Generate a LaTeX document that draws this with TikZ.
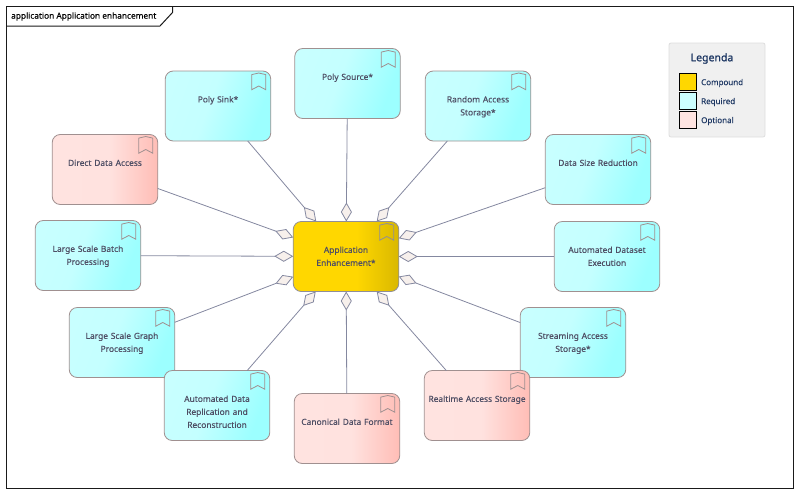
\documentclass[tikz,border=0pt]{standalone}
\usepackage{fontspec}
\setmainfont{Noto Sans}[FakeBold=0.2]
\newfontfamily\legendfont{Noto Sans}[FakeBold=1.1]
\usetikzlibrary{arrows.meta}
\definecolor{frameline}{HTML}{1A1A1A}
\definecolor{boxline}{HTML}{A09090}
\definecolor{coreline}{HTML}{908E98}
\definecolor{linkline}{HTML}{8488A0}
\definecolor{tipfill}{HTML}{F7F0EC}
\definecolor{boxtext}{HTML}{4E4E64}
\definecolor{legendtext}{HTML}{1F3864}
\definecolor{goldA}{HTML}{FFD700}
\definecolor{goldB}{HTML}{D9B800}
\definecolor{cyanA}{HTML}{CCFFFF}
\definecolor{cyanB}{HTML}{C4FFFF}
\definecolor{cyanC}{HTML}{9CFFFF}
\definecolor{pinkA}{HTML}{FFE4E1}
\definecolor{pinkB}{HTML}{FFE2DF}
\definecolor{pinkC}{HTML}{FFBDB6}
\pgfdeclarehorizontalshading{compoundfill}{100bp}{
  color(0bp)=(goldA);color(55bp)=(goldA);color(75bp)=(goldB);color(100bp)=(goldB)}
\pgfdeclarehorizontalshading{requiredfill}{100bp}{
  color(0bp)=(cyanA);color(45bp)=(cyanB);color(72bp)=(cyanC);color(100bp)=(cyanC)}
\pgfdeclarehorizontalshading{optionalfill}{100bp}{
  color(0bp)=(pinkA);color(52bp)=(pinkB);color(75bp)=(pinkC);color(100bp)=(pinkC)}
\tikzset{
  box/.style={
    rectangle,
    rounded corners=8pt,
    minimum width=105.5pt,
    minimum height=70pt,
    inner sep=0pt,
    outer sep=0pt,
    text width=104pt,
    text height=31.4pt,
    text depth=38.6pt,
    align=center,
    line width=0.8pt,
    font=\fontsize{8.4pt}{13pt}\selectfont,
    text=boxtext
    },
  compound/.style={box, draw=coreline, shading=compoundfill},
  required/.style={box, draw=boxline, shading=requiredfill, shading angle=-20},
  optional/.style={box, draw=boxline, shading=optionalfill},
  swatch/.style={
    rectangle,
    minimum width=17pt,
    minimum height=17pt,
    inner sep=0pt,
    draw=black,
    line width=0.8pt
    },
  legendlabel/.style={
    anchor=west,
    inner sep=0pt,
    text=legendtext,
    font=\fontsize{8pt}{10pt}\selectfont
    },
  link/.style={
    {Diamond[length=19pt,width=11pt,fill=tipfill]}-,
    draw=linkline,
    line width=0.8pt
    },
  pics/bookmark/.style={
    code={
      \draw[line width=0.8pt, draw=#1, line join=miter]
        (-19,3.6) -- (-12,2) -- (-5,3.6) -- (-5,18.7) -- (-12,15) -- (-19,18.7) -- cycle;
      }
    }
}
\begin{document}
\begin{tikzpicture}[x=1pt,y=-1pt]
\useasboundingbox (0,0) rectangle (800,493);
\draw[frameline, line width=1pt] (6.5,6.5) rectangle (793,488);
\node (frametitle) [anchor=west, inner sep=0pt, font=\fontsize{8.3pt}{10pt}\selectfont, text=black] at (11,16.5) {application Application enhancement};
\draw[frameline, line width=1pt] (172.5,6.5) -- (172.5,12.5) -- (160,26) -- (6.5,26);
% legend
\node (legendbox) [rectangle, rounded corners=2pt, minimum width=96pt, minimum height=94pt, fill=black!6, draw=black!13, line width=0.8pt] at (717,90) {};
\node (legendtitle) [inner sep=0pt, text=legendtext, font=\legendfont\fontsize{10.5pt}{12pt}\selectfont] at (712,58.5) {Legenda};
\node (swcompound) [swatch, fill=goldA] at (687.5,81.5) {};
\node (swrequired) [swatch, fill=cyanA] at (687.5,100.5) {};
\node (swoptional) [swatch, fill=pinkA] at (687.5,119.5) {};
\node (lbcompound) [legendlabel] at (701,83) {Compound};
\node (lbrequired) [legendlabel] at (701,102) {Required};
\node (lboptional) [legendlabel] at (701,121) {Optional};
% boxes
\node (appenh) [compound] at (346,256.5) {Application\\Enhancement*};
\node (polysource) [required] at (347.5,83.5) {Poly Source*};
\node (polysink) [required] at (218,106) {Poly Sink*};
\node (randomaccess) [required] at (478,106) {Random Access\\Storage*};
\node (directdata) [optional] at (105,169.5) {Direct Data Access};
\node (datasize) [required] at (598,169.5) {Data Size Reduction};
\node (batch) [required] at (88,255.5) {Large Scale Batch\\Processing};
\node (dataset) [required] at (607,256.5) {Automated Dataset\\Execution};
\node (graph) [required] at (122,342.5) {Large Scale Graph\\Processing};
\node (streaming) [required] at (573,342.5) {Streaming Access\\Storage*};
\node (replication) [required] at (217,405.5) {Automated Data\\Replication and\\Reconstruction};
\node (realtime) [optional] at (477,405.5) {Realtime Access Storage};
\node (canonical) [optional] at (347,428.5) {Canonical Data Format};
% bookmark icons
\foreach \boxname in {polysource,polysink,randomaccess,directdata,datasize,batch,dataset,graph,streaming,replication,realtime,canonical}
  \pic at (\boxname.north east) {bookmark=boxline};
\pic at (appenh.north east) {bookmark=coreline};
% links
\draw[link] (appenh) -- (polysource);
\draw[link] (appenh) -- (polysink);
\draw[link] (appenh) -- (randomaccess);
\draw[link] (appenh) -- (directdata);
\draw[link] (appenh) -- (datasize);
\draw[link] (appenh) -- (batch);
\draw[link] (appenh) -- (dataset);
\draw[link] (appenh) -- (graph);
\draw[link] (appenh) -- (streaming);
\draw[link] (appenh) -- (replication);
\draw[link] (appenh) -- (realtime);
\draw[link] (appenh) -- (canonical);
\end{tikzpicture}
\end{document}
